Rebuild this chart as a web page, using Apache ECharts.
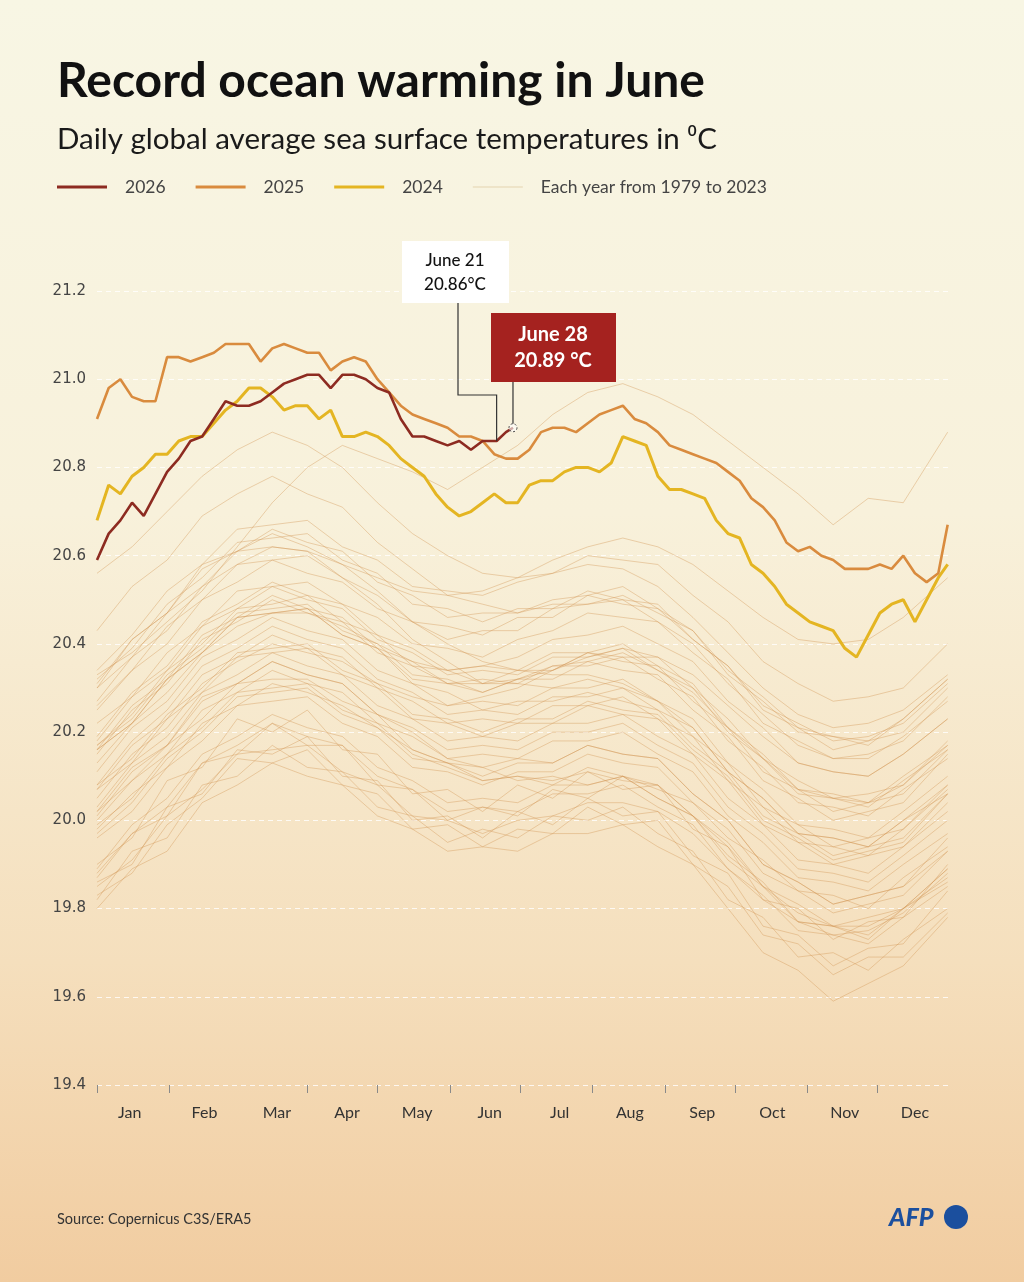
<!DOCTYPE html>
<html>
<head>
<meta charset="utf-8">
<title>Record ocean warming in June</title>
<script src="https://cdn.jsdelivr.net/npm/echarts@6.0.0/dist/echarts.min.js"></script>
<style>
html, body { margin: 0; padding: 0; }
#main { width: 1024px; height: 1282px; }
</style>
</head>
<body>
<div id="main"></div>
<script>
// day of year (Jan 1 = 0) for the sampled values
var days5 = [0,5,10,15,20,25,30,35,40,45,50,55,60,65,70,75,80,85,90,95,100,105,110,115,120,125,130,135,140,145,
  150,155,160,165,170,175,180,185,190,195,200,205,210,215,220,225,230,235,240,245,250,255,260,265,270,275,280,285,
  290,295,300,305,310,315,320,325,330,335,340,345,350,355,360,364];

// 2025, daily global average SST (°C)
var values2025 = [20.91,20.98,21.00,20.96,20.95,20.95,21.05,21.05,21.04,21.05,
  21.06,21.08,21.08,21.08,21.04,21.07,21.08,21.07,21.06,21.06,
  21.02,21.04,21.05,21.04,21.00,20.97,20.94,20.92,20.91,20.90,
  20.89,20.87,20.87,20.86,20.83,20.82,20.82,20.84,20.88,20.89,
  20.89,20.88,20.90,20.92,20.93,20.94,20.91,20.90,20.88,20.85,
  20.84,20.83,20.82,20.81,20.79,20.77,20.73,20.71,20.68,20.63,
  20.61,20.62,20.60,20.59,20.57,20.57,20.57,20.58,20.57,20.60,
  20.56,20.54,20.56,20.67];

// 2024
var values2024 = [20.68,20.76,20.74,20.78,20.80,20.83,20.83,20.86,20.87,20.87,
  20.90,20.93,20.95,20.98,20.98,20.96,20.93,20.94,20.94,20.91,
  20.93,20.87,20.87,20.88,20.87,20.85,20.82,20.80,20.78,20.74,
  20.71,20.69,20.70,20.72,20.74,20.72,20.72,20.76,20.77,20.77,
  20.79,20.80,20.80,20.79,20.81,20.87,20.86,20.85,20.78,20.75,
  20.75,20.74,20.73,20.68,20.65,20.64,20.58,20.56,20.53,20.49,
  20.47,20.45,20.44,20.43,20.39,20.37,20.42,20.47,20.49,20.50,
  20.45,20.50,20.55,20.58];

// 2026, up to June 28
var days2026 = [0,5,10,15,20,25,30,35,40,45,50,55,60,65,70,75,80,85,90,95,100,105,110,115,120,125,130,135,140,145,
  150,155,160,165,170,171,175,178];
var values2026 = [20.59,20.65,20.68,20.72,20.69,20.74,20.79,20.82,20.86,20.87,
  20.91,20.95,20.94,20.94,20.95,20.97,20.99,21.00,21.01,21.01,
  20.98,21.01,21.01,21.00,20.98,20.97,20.91,20.87,20.87,20.86,
  20.85,20.86,20.84,20.86,20.86,20.86,20.88,20.89];

// each year 1979-2023, sampled every 15 days
var faintDays = [0,15,30,45,60,75,90,105,120,135,150,165,180,195,210,225,240,255,270,285,300,315,330,345,364];
var faintYears = [1979,1980,1981,1982,1983,1984,1985,1986,1987,1988,1989,1990,1991,1992,1993,1994,1995,1996,1997,
  1998,1999,2000,2001,2002,2003,2004,2005,2006,2007,2008,2009,2010,2011,2012,2013,2014,2015,2016,2017,2018,2019,
  2020,2021,2022,2023];
var faintValues = [
  [19.82,19.93,19.96,20.08,20.10,20.17,20.12,20.11,20.03,20.01,19.95,19.98,19.96,20.01,20.00,20.03,19.97,19.93,19.82,19.78,19.69,19.70,19.66,19.73,19.80],
  [19.90,19.96,20.09,20.12,20.23,20.20,20.25,20.16,20.15,20.06,20.07,20.02,20.08,20.05,20.11,20.07,20.08,19.98,19.94,19.82,19.80,19.73,19.77,19.78,19.90],
  [19.86,19.90,20.03,20.06,20.16,20.15,20.19,20.10,20.09,20.00,20.01,19.96,20.02,19.99,20.05,20.01,20.02,19.92,19.88,19.76,19.74,19.67,19.71,19.72,19.84],
  [19.88,19.97,20.01,20.13,20.15,20.22,20.17,20.17,20.08,20.07,20.00,20.03,20.01,20.07,20.05,20.10,20.07,20.04,19.96,19.91,19.84,19.83,19.80,19.87,19.94],
  [20.02,20.12,20.17,20.28,20.31,20.36,20.33,20.31,20.24,20.20,20.14,20.12,20.09,20.10,20.08,20.10,20.05,20.01,19.92,19.86,19.77,19.76,19.73,19.80,19.86],
  [19.83,19.88,19.99,20.05,20.14,20.13,20.16,20.08,20.06,19.98,19.99,19.94,19.98,19.97,20.03,19.99,20.00,19.90,19.85,19.74,19.72,19.65,19.69,19.69,19.79],
  [19.80,19.89,19.93,20.04,20.08,20.13,20.10,20.08,20.01,19.98,19.93,19.94,19.93,19.97,19.97,19.99,19.94,19.90,19.80,19.70,19.66,19.59,19.63,19.67,19.78],
  [19.85,19.91,20.01,20.07,20.15,20.16,20.17,20.11,20.08,20.01,20.00,19.97,20.00,20.01,20.04,20.04,20.02,19.97,19.89,19.82,19.77,19.74,19.75,19.79,19.88],
  [19.98,20.06,20.12,20.22,20.26,20.31,20.29,20.26,20.21,20.16,20.13,20.12,20.14,20.13,20.17,20.15,20.14,20.06,20.00,19.90,19.86,19.81,19.83,19.85,19.93],
  [20.02,20.09,20.17,20.23,20.31,20.32,20.32,20.27,20.24,20.16,20.13,20.09,20.10,20.08,20.12,20.10,20.08,20.01,19.95,19.85,19.81,19.76,19.78,19.80,19.89],
  [19.87,19.97,20.03,20.13,20.17,20.22,20.19,20.17,20.10,20.07,20.02,20.03,20.02,20.06,20.06,20.08,20.03,19.99,19.89,19.83,19.75,19.74,19.72,19.78,19.85],
  [19.97,20.04,20.14,20.20,20.28,20.29,20.30,20.24,20.21,20.14,20.13,20.10,20.13,20.13,20.17,20.15,20.14,20.06,20.00,19.90,19.86,19.81,19.83,19.85,19.96],
  [19.99,20.05,20.15,20.21,20.29,20.30,20.31,20.25,20.22,20.15,20.12,20.09,20.10,20.09,20.11,20.09,20.08,20.01,19.94,19.85,19.79,19.76,19.76,19.80,19.89],
  [19.89,19.99,20.05,20.15,20.19,20.24,20.21,20.19,20.12,20.09,20.04,20.05,20.04,20.08,20.08,20.10,20.05,20.01,19.91,19.85,19.77,19.76,19.74,19.80,19.87],
  [19.96,20.02,20.12,20.18,20.26,20.27,20.28,20.22,20.19,20.12,20.11,20.08,20.11,20.11,20.15,20.13,20.12,20.04,19.98,19.88,19.84,19.79,19.81,19.83,19.93],
  [20.00,20.09,20.15,20.25,20.29,20.34,20.31,20.29,20.22,20.19,20.14,20.15,20.14,20.18,20.18,20.20,20.15,20.11,20.01,19.95,19.87,19.86,19.84,19.90,19.97],
  [20.07,20.13,20.23,20.29,20.37,20.38,20.39,20.33,20.30,20.23,20.22,20.19,20.22,20.22,20.26,20.24,20.23,20.15,20.09,19.99,19.95,19.90,19.92,19.94,20.04],
  [20.01,20.11,20.17,20.27,20.31,20.36,20.33,20.31,20.24,20.21,20.16,20.17,20.16,20.20,20.20,20.22,20.17,20.13,20.03,19.97,19.89,19.88,19.86,19.92,20.00],
  [20.05,20.15,20.21,20.31,20.36,20.40,20.38,20.36,20.31,20.28,20.26,20.28,20.30,20.34,20.37,20.39,20.37,20.33,20.26,20.19,20.13,20.11,20.10,20.15,20.23],
  [20.30,20.41,20.47,20.58,20.61,20.65,20.62,20.58,20.52,20.45,20.40,20.36,20.34,20.33,20.33,20.31,20.27,20.21,20.11,20.05,19.97,19.96,19.94,20.00,20.06],
  [20.03,20.13,20.19,20.29,20.33,20.38,20.35,20.33,20.26,20.23,20.18,20.19,20.18,20.22,20.22,20.24,20.19,20.15,20.05,19.99,19.91,19.90,19.88,19.94,20.02],
  [20.08,20.14,20.24,20.30,20.38,20.39,20.40,20.34,20.31,20.24,20.23,20.20,20.23,20.23,20.27,20.25,20.24,20.16,20.10,20.00,19.96,19.91,19.93,19.95,20.06],
  [20.11,20.21,20.27,20.37,20.41,20.46,20.43,20.41,20.34,20.31,20.26,20.27,20.26,20.30,20.30,20.32,20.27,20.23,20.13,20.07,19.99,19.98,19.96,20.02,20.10],
  [20.16,20.22,20.32,20.38,20.46,20.47,20.48,20.42,20.39,20.32,20.31,20.29,20.32,20.34,20.38,20.37,20.37,20.30,20.23,20.14,20.09,20.05,20.06,20.08,20.18],
  [20.16,20.26,20.32,20.42,20.46,20.51,20.48,20.46,20.39,20.36,20.31,20.32,20.31,20.35,20.35,20.37,20.32,20.28,20.18,20.12,20.04,20.03,20.01,20.07,20.14],
  [20.17,20.23,20.33,20.39,20.47,20.48,20.49,20.43,20.40,20.33,20.32,20.29,20.32,20.32,20.36,20.34,20.33,20.25,20.19,20.09,20.05,20.00,20.02,20.04,20.15],
  [20.18,20.28,20.34,20.44,20.48,20.53,20.50,20.48,20.41,20.38,20.33,20.34,20.33,20.37,20.37,20.39,20.34,20.30,20.20,20.14,20.06,20.05,20.03,20.09,20.16],
  [20.15,20.25,20.31,20.41,20.45,20.50,20.47,20.45,20.38,20.35,20.31,20.31,20.32,20.35,20.36,20.38,20.34,20.29,20.21,20.14,20.07,20.05,20.04,20.08,20.17],
  [20.16,20.22,20.32,20.38,20.46,20.47,20.48,20.42,20.39,20.31,20.29,20.25,20.27,20.27,20.29,20.27,20.25,20.17,20.11,20.01,19.97,19.92,19.94,19.96,20.06],
  [20.07,20.17,20.23,20.33,20.37,20.42,20.39,20.37,20.30,20.27,20.22,20.23,20.22,20.26,20.26,20.28,20.23,20.19,20.09,20.03,19.95,19.94,19.92,19.98,20.07],
  [20.13,20.22,20.29,20.38,20.44,20.47,20.47,20.44,20.40,20.36,20.34,20.35,20.37,20.41,20.42,20.44,20.40,20.36,20.27,20.21,20.13,20.11,20.10,20.15,20.23],
  [20.30,20.37,20.47,20.53,20.61,20.62,20.61,20.55,20.49,20.41,20.36,20.31,20.31,20.30,20.32,20.30,20.27,20.19,20.13,20.03,19.99,19.94,19.96,19.98,20.08],
  [20.08,20.18,20.25,20.35,20.39,20.44,20.41,20.39,20.32,20.29,20.24,20.25,20.24,20.28,20.28,20.30,20.25,20.21,20.11,20.05,19.97,19.96,19.94,20.00,20.08],
  [20.17,20.24,20.34,20.40,20.48,20.49,20.51,20.45,20.42,20.35,20.34,20.31,20.34,20.34,20.38,20.36,20.35,20.27,20.21,20.11,20.07,20.02,20.04,20.06,20.16],
  [20.19,20.29,20.35,20.45,20.49,20.54,20.51,20.49,20.42,20.39,20.34,20.35,20.34,20.38,20.38,20.40,20.35,20.31,20.21,20.15,20.07,20.06,20.04,20.10,20.17],
  [20.22,20.28,20.38,20.44,20.52,20.53,20.54,20.49,20.46,20.40,20.39,20.37,20.41,20.43,20.47,20.46,20.45,20.38,20.32,20.22,20.18,20.14,20.15,20.18,20.28],
  [20.27,20.37,20.43,20.53,20.58,20.62,20.61,20.58,20.55,20.52,20.51,20.52,20.55,20.59,20.62,20.64,20.62,20.58,20.52,20.46,20.41,20.40,20.41,20.46,20.55],
  [20.56,20.62,20.70,20.78,20.84,20.88,20.85,20.80,20.72,20.65,20.60,20.56,20.55,20.56,20.58,20.57,20.53,20.46,20.38,20.30,20.24,20.21,20.22,20.25,20.33],
  [20.32,20.39,20.49,20.55,20.63,20.64,20.65,20.59,20.56,20.49,20.48,20.45,20.48,20.48,20.52,20.50,20.49,20.41,20.35,20.25,20.21,20.16,20.18,20.20,20.30],
  [20.25,20.34,20.40,20.50,20.54,20.59,20.56,20.54,20.48,20.45,20.41,20.43,20.43,20.48,20.49,20.51,20.47,20.43,20.34,20.28,20.21,20.19,20.18,20.23,20.32],
  [20.34,20.42,20.52,20.58,20.66,20.67,20.68,20.62,20.59,20.53,20.52,20.51,20.54,20.56,20.60,20.59,20.58,20.51,20.45,20.36,20.31,20.27,20.28,20.30,20.40],
  [20.43,20.53,20.59,20.69,20.74,20.78,20.74,20.71,20.63,20.57,20.51,20.49,20.47,20.49,20.49,20.50,20.45,20.40,20.31,20.24,20.17,20.14,20.14,20.19,20.27],
  [20.26,20.34,20.44,20.50,20.58,20.59,20.60,20.55,20.51,20.45,20.44,20.42,20.46,20.46,20.51,20.49,20.48,20.41,20.35,20.26,20.22,20.18,20.19,20.22,20.31],
  [20.31,20.41,20.47,20.57,20.61,20.66,20.63,20.61,20.54,20.51,20.46,20.47,20.47,20.50,20.51,20.53,20.48,20.43,20.33,20.27,20.20,20.19,20.17,20.23,20.32],
  [20.33,20.38,20.45,20.52,20.62,20.72,20.80,20.85,20.82,20.79,20.75,20.80,20.85,20.92,20.97,20.99,20.96,20.92,20.86,20.80,20.74,20.67,20.73,20.72,20.88]
];

// axis
var monthNames = ['Jan','Feb','Mar','Apr','May','Jun','Jul','Aug','Sep','Oct','Nov','Dec'];
var monthLabelDays = [14,46,77,107,137,168,198,228,259,289,320,350];
var monthTickDays = [0,31,90,120,151,181,212,243,273,304,334];
var yMin = 19.4, yMax = 21.2, yStep = 0.2;

var faintName = 'Each year from 1979 to 2023';
var colors = { y2026: '#8d2b21', y2025: '#d98b3e', y2024: '#e4b522', faint: 'rgba(210,150,85,0.5)' };

function pairs(days, vals) {
	var out = [];
	for (var i = 0; i < vals.length; i++) {
		out.push([days[i], vals[i]]);
	}
	return out;
}

var chart = echarts.init(document.getElementById('main'));

var series = [];
// 1979-2023 thin lines
for (var k = 0; k < faintValues.length; k++) {
	series.push({
		name: faintName,
		type: 'line',
		data: pairs(faintDays, faintValues[k]),
		symbol: 'none',
		color: colors.faint,
		lineStyle: { color: colors.faint, width: 0.8 },
		silent: true,
		z: 1
	});
}
series.push({
	name: '2024', type: 'line', data: pairs(days5, values2024), symbol: 'none',
	color: colors.y2024, lineStyle: { color: colors.y2024, width: 3 }, z: 3
});
series.push({
	name: '2025', type: 'line', data: pairs(days5, values2025), symbol: 'none',
	color: colors.y2025, lineStyle: { color: colors.y2025, width: 2.6 }, z: 4
});
series.push({
	name: '2026', type: 'line', data: pairs(days2026, values2026), symbol: 'none',
	color: colors.y2026, lineStyle: { color: colors.y2026, width: 2.6 }, z: 5
});

chart.setOption({
	animation: false,
	backgroundColor: {
		type: 'linear', x: 0, y: 0, x2: 0, y2: 1,
		colorStops: [
			{ offset: 0, color: '#f8f6e4' },
			{ offset: 0.4, color: '#f8f1db' },
			{ offset: 0.75, color: '#f5dfbd' },
			{ offset: 1, color: '#f1cca0' }
		]
	},
	textStyle: { fontFamily: 'Lato' },
	grid: { left: 97, right: 74, top: 291, bottom: 197 },
	legend: {
		left: 57,
		top: 178,
		padding: 0,
		itemWidth: 50,
		itemHeight: 3,
		itemGap: 30,
		icon: 'rect',
		textStyle: { fontFamily: 'Lato', fontSize: 17.5, color: '#444', padding: [0, 0, 0, 13] },
		data: [
			{ name: '2026' },
			{ name: '2025' },
			{ name: '2024' },
			{ name: faintName, icon: 'path://M0,0L50,0L50,1L0,1Z', itemStyle: { color: '#e3d3b0' } }
		]
	},
	xAxis: {
		type: 'value',
		min: 0,
		max: 365,
		axisLine: { show: false },
		splitLine: { show: false },
		axisTick: {
			show: true,
			customValues: monthTickDays,
			length: 8,
			lineStyle: { color: '#8a8a8a', width: 1 }
		},
		axisLabel: {
			customValues: monthLabelDays,
			margin: 20,
			fontFamily: 'Lato',
			fontSize: 16,
			color: '#333',
			formatter: function (v) {
				var i = monthLabelDays.indexOf(Math.round(v));
				return i >= 0 ? monthNames[i] : '';
			}
		}
	},
	yAxis: {
		type: 'value',
		min: yMin,
		max: yMax,
		interval: yStep,
		axisLine: { show: false },
		axisTick: { show: false },
		splitLine: { show: true, lineStyle: { color: 'rgba(255,255,255,0.8)', type: [5, 4], width: 1 } },
		axisLabel: {
			margin: 11,
			fontFamily: 'DejaVu Sans',
			fontSize: 15,
			color: '#444',
			formatter: function (v) { return v.toFixed(1); }
		}
	},
	series: series
});

// annotations anchored on the 2026 values
var p21 = chart.convertToPixel({ gridIndex: 0 }, [171, values2026[days2026.indexOf(171)]]);
var p28 = chart.convertToPixel({ gridIndex: 0 }, [178, values2026[days2026.indexOf(178)]]);

chart.setOption({
	graphic: [
		{ type: 'text', z: 100, style: { text: 'Record ocean warming in June', x: 57, y: 82, font: 'bold 48px Lato', fill: '#111', textVerticalAlign: 'middle' } },
		{ type: 'text', z: 100, style: { text: 'Daily global average sea surface temperatures in \u2070C', x: 57, y: 139, font: '29.5px Lato', fill: '#1a1a1a', textVerticalAlign: 'middle' } },
		{ type: 'polyline', z: 100, shape: { points: [[458, 303], [458, 395], [p21[0], 395], [p21[0], p21[1]]] }, style: { stroke: '#333', lineWidth: 1.2, fill: null } },
		{ type: 'rect', z: 101, shape: { x: 402, y: 241, width: 107, height: 62 }, style: { fill: '#ffffff' } },
		{ type: 'text', z: 102, style: { text: 'June 21', x: 455, y: 261, font: '500 17px Lato', fill: '#111', textAlign: 'center', textVerticalAlign: 'middle' } },
		{ type: 'text', z: 102, style: { text: '20.86\u00b0C', x: 455, y: 285, font: '500 17px Lato', fill: '#111', textAlign: 'center', textVerticalAlign: 'middle' } },
		{ type: 'line', z: 100, shape: { x1: p28[0], y1: 382, x2: p28[0], y2: p28[1] - 4 }, style: { stroke: '#333', lineWidth: 1.2 } },
		{ type: 'circle', z: 100, shape: { cx: p28[0], cy: p28[1], r: 4 }, style: { fill: 'rgba(255,255,255,0.6)', stroke: '#444', lineWidth: 1, lineDash: [2, 2] } },
		{ type: 'rect', z: 101, shape: { x: 491, y: 313, width: 125, height: 69 }, style: { fill: '#a5221f' } },
		{ type: 'text', z: 102, style: { text: 'June 28', x: 553, y: 335, font: 'bold 20px Lato', fill: '#fff', textAlign: 'center', textVerticalAlign: 'middle' } },
		{ type: 'text', z: 102, style: { text: '20.89 \u00b0C', x: 553, y: 361, font: 'bold 20px Lato', fill: '#fff', textAlign: 'center', textVerticalAlign: 'middle' } },
		{ type: 'text', z: 100, style: { text: 'Source: Copernicus C3S/ERA5', x: 57, y: 1219, font: '14.5px Lato', fill: '#333', textVerticalAlign: 'middle' } },
		{ type: 'text', z: 100, style: { text: 'AFP', x: 889, y: 1218, font: 'italic 900 25px Lato', fill: '#1b4f9e', textVerticalAlign: 'middle' } },
		{ type: 'circle', z: 100, shape: { cx: 956, cy: 1217, r: 12 }, style: { fill: '#1b4f9e' } }
	]
});
</script>
</body>
</html>
